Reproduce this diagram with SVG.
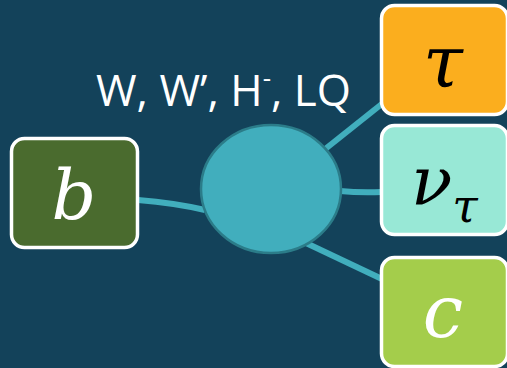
<svg xmlns="http://www.w3.org/2000/svg" width="507" height="368" viewBox="0 0 507 368">
<style>
.box{stroke:#ffffff;stroke-width:3.5}
.conn{fill:none;stroke:#41aebd;stroke-width:6}
.math{font-family:"DejaVu Serif","Liberation Serif",serif;font-style:italic}
.lbl{font-family:"Open Sans","Noto Sans",sans-serif;fill:#ffffff}
</style>
<rect width="507" height="368" fill="#13425a"/>
<g id="connectors">
<path class="conn" d="M138,200 Q175,203 205,210"/>
<path class="conn" d="M324,150 L383,103"/>
<path class="conn" d="M340,191 Q360,193 382,192"/>
<path class="conn" d="M306,243 L382,279"/>
</g>
<g id="vertex">
<ellipse cx="271" cy="189" rx="70" ry="64" fill="#41aebd" stroke="#2b7c89" stroke-width="2.5"/>
</g>
<g id="label">
<text class="lbl" x="96" y="106" font-size="44" textLength="255" lengthAdjust="spacingAndGlyphs">W, W’, H<tspan font-size="26" dy="-19">-</tspan><tspan dy="19">, LQ</tspan></text>
</g>
<g id="node-b">
<rect class="box" x="11.5" y="138.5" width="126" height="109" rx="13" fill="#4a6b2e"/>
<text class="math" x="74" y="219" font-size="70" fill="#ffffff" text-anchor="middle">b</text>
</g>
<g id="node-tau">
<rect class="box" x="381.5" y="5.5" width="126" height="109" rx="13" fill="#fbae1e"/>
<text class="math" x="443" y="87" font-size="72" fill="#000000" text-anchor="middle">τ</text>
</g>
<g id="node-nu">
<rect class="box" x="381.5" y="125.5" width="126" height="109" rx="13" fill="#98e8d6"/>
<text class="math" x="411" y="205" font-size="68" fill="#000000">ν<tspan font-size="46" dy="17">τ</tspan></text>
</g>
<g id="node-c">
<rect class="box" x="381.5" y="257.5" width="126" height="109" rx="13" fill="#a4cd4b"/>
<text class="math" x="443" y="337" font-size="72" fill="#ffffff" text-anchor="middle">c</text>
</g>
</svg>
